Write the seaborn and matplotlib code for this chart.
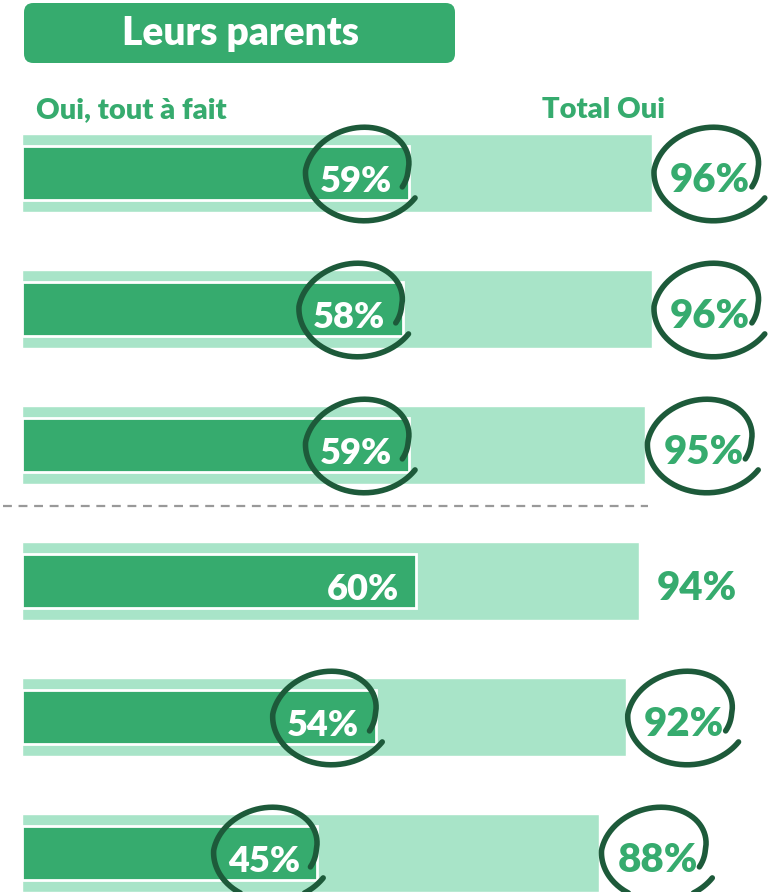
import numpy as np
import seaborn as sns
import matplotlib.pyplot as plt
from matplotlib.patches import FancyBboxPatch

# ---------------- DATA ----------------
rows = ["r1", "r2", "r3", "r4", "r5", "r6"]
tout_a_fait = [59, 58, 59, 60, 54, 45]
total_oui = [96, 96, 95, 94, 92, 88]
circled = [True, True, True, False, True, True]

title = "Leurs parents"
head_left = "Oui, tout à fait"
head_right = "Total Oui"

# ---------------- STYLE ----------------
DARK = "#36AB6E"
LIGHT = "#A8E4C8"
INK = "#1D5A3A"
WEIGHT = "heavy"

sns.set_style("white")
plt.rcParams['font.family'] = ['Lato', 'DejaVu Sans']

W, H = 771, 892
fig = plt.figure(figsize=(W / 100, H / 100), dpi=100)
ax = fig.add_axes([0, 0, 1, 1])

PX = 6.5625          # pixels per percent
X0 = 22              # left edge of bars in pixels
ROW = 136            # pixels between rows
Y0 = 173             # centre of first row in pixels

sns.barplot(x=total_oui, y=rows, orient="h", color=LIGHT, saturation=1,
            width=78 / ROW, ax=ax)
sns.barplot(x=tout_a_fait, y=rows, orient="h", color=DARK, saturation=1,
            width=54 / ROW, edgecolor="white", linewidth=2, ax=ax)

ax.set_xlim(-X0 / PX, (W - X0) / PX)
ax.set_ylim((H - Y0) / ROW, -Y0 / ROW)
ax.axis("off")

# value labels
base = 19 / ROW
for i, (a, t) in enumerate(zip(tout_a_fait, total_oui)):
    ax.text(a - 2.6, i + base, f"{a}%", color="white", fontsize=26,
            fontweight=WEIGHT, ha="right", va="baseline")
    ax.text(t + 2.74, i + base, f"{t}%", color=DARK, fontsize=29,
            fontweight=WEIGHT, ha="left", va="baseline")


# hand drawn loops
def loop(cx, cy, rx, ry):
    t = np.linspace(-0.45, 2 * np.pi - 0.55, 240)
    r = np.linspace(0.78, 1.08, t.size)
    xs = cx + rx * r * np.cos(t) + 0.9 * np.sin(t) * (np.sin(t) > 0)
    ys = cy - ry * r * np.sin(t)
    ax.plot(xs, ys, color=INK, lw=4, solid_capstyle="round", zorder=5)


for i, (a, t) in enumerate(zip(tout_a_fait, total_oui)):
    if circled[i]:
        loop(a - 7.3, i - 0.02, 8.9, 0.36)
        loop(t + 8.9, i - 0.02, 9.0, 0.36)

# separator
ax.axhline(2.45, xmin=3 / W, xmax=648 / W, color="#999999", lw=1.6,
           ls=(0, (4, 3)))

# headers
ax.text(36 / PX - X0 / PX, -0.404, head_left, color=DARK, fontsize=21,
        fontweight=WEIGHT, ha="left", va="baseline")
ax.text((665 - X0) / PX, -0.404, head_right, color=DARK, fontsize=21,
        fontweight=WEIGHT, ha="right", va="baseline")

# title box
box = FancyBboxPatch((24 / W, 1 - 63 / H), 431 / W, 60 / H,
                     boxstyle="round,pad=0,rounding_size=0.012",
                     mutation_aspect=W / H, transform=fig.transFigure,
                     facecolor=DARK, edgecolor="none")
fig.patches.append(box)
fig.text(240 / W, 1 - 34 / H, title, color="white", fontsize=28,
         fontweight=WEIGHT, ha="center", va="center")

fig.savefig("out.png", dpi=100)
